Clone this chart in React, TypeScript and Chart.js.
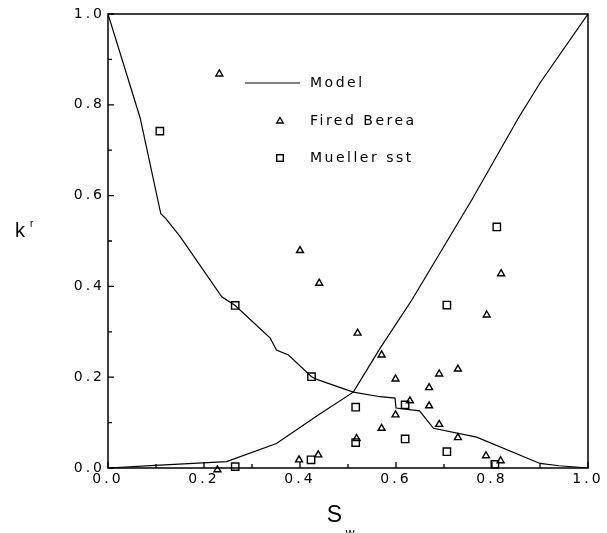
import React, { useEffect, useRef } from 'react';
import { Chart, registerables } from 'chart.js';

Chart.register(...registerables);

// ---- Data ----
const modelKroSw = [0, 0.067, 0.11, 0.12, 0.15, 0.237, 0.265, 0.338, 0.351, 0.376, 0.424, 0.438, 0.511, 0.567, 0.598, 0.6, 0.649, 0.678, 0.768, 0.9, 0.94, 1.0];
const modelKro = [1.0, 0.771, 0.56, 0.55, 0.51, 0.377, 0.358, 0.286, 0.26, 0.249, 0.201, 0.194, 0.167, 0.157, 0.154, 0.132, 0.126, 0.0875, 0.068, 0.01, 0.005, 0.0];

const modelKrwSw = [0, 0.098, 0.247, 0.351, 0.438, 0.511, 0.567, 0.633, 0.758, 0.855, 0.9, 1.0];
const modelKrw = [0, 0.006, 0.014, 0.054, 0.117, 0.167, 0.264, 0.37, 0.591, 0.771, 0.848, 1.0];

const bereaSw = [0.232, 0.40, 0.44, 0.52, 0.57, 0.789, 0.819, 0.599, 0.69, 0.729, 0.669, 0.629, 0.669, 0.599, 0.57, 0.69, 0.729, 0.7875, 0.818, 0.518, 0.398, 0.438, 0.228];
const bereaKr = [0.868, 0.479, 0.407, 0.297, 0.249, 0.337, 0.428, 0.196, 0.207, 0.218, 0.177, 0.148, 0.137, 0.117, 0.0875, 0.096, 0.067, 0.027, 0.016, 0.065, 0.018, 0.029, -0.004];

const muellerSw = [0.108, 0.265, 0.424, 0.516, 0.516, 0.423, 0.265, 0.706, 0.619, 0.619, 0.706, 0.806, 0.81];
const muellerKr = [0.742, 0.358, 0.201, 0.134, 0.056, 0.018, 0.003, 0.359, 0.139, 0.064, 0.036, 0.008, 0.531];

const seriesLabels = ['Model', 'Fired Berea', 'Mueller sst'];
const axisMin = 0;
const axisMax = 1;
const minorStep = 0.1;
const xTitle = 'S';
const xTitleSub = 'w';
const yTitle = 'k';
const yTitleSup = 'r';

const zip = (xs: number[], ys: number[]) => xs.map((x, i) => ({ x, y: ys[i] }));

export default function App() {
  const ref = useRef<HTMLCanvasElement>(null);

  useEffect(() => {
    const canvas = ref.current;
    if (!canvas) return;

    const tickFont = { family: 'DejaVu Sans', size: 14 };
    const tickSpacing = '3px';

    const decor = {
      id: 'decor',
      beforeUpdate(chart: any) {
        chart.ctx.letterSpacing = tickSpacing;
      },
      beforeDraw(chart: any) {
        chart.ctx.letterSpacing = tickSpacing;
      },
      beforeDatasetsDraw(chart: any) {
        const { ctx, chartArea: a, scales } = chart;
        ctx.save();
        ctx.letterSpacing = '0px';
        ctx.strokeStyle = '#000';
        ctx.lineWidth = 1.5;
        ctx.strokeRect(a.left, a.top, a.right - a.left, a.bottom - a.top);
        ctx.lineWidth = 1.3;
        ctx.beginPath();
        const n = Math.round((axisMax - axisMin) / minorStep);
        for (let i = 0; i <= n; i++) {
          const v = axisMin + i * minorStep;
          const len = i % 2 === 0 ? 6 : 4;
          const px = scales.x.getPixelForValue(v);
          ctx.moveTo(px, a.bottom);
          ctx.lineTo(px, a.bottom - len);
          const py = scales.y.getPixelForValue(v);
          ctx.moveTo(a.left, py);
          ctx.lineTo(a.left + len, py);
        }
        ctx.stroke();
        ctx.restore();
      },
      afterDraw(chart: any) {
        const { ctx } = chart;
        const ds = chart.data.datasets;
        ctx.save();
        ctx.fillStyle = '#000';
        ctx.strokeStyle = '#000';
        // legend
        ctx.letterSpacing = '2.5px';
        ctx.font = '14px "DejaVu Sans"';
        ctx.textAlign = 'left';
        ctx.textBaseline = 'middle';
        ctx.lineWidth = 1.2;
        ctx.beginPath();
        ctx.moveTo(245, 83);
        ctx.lineTo(300, 83);
        ctx.stroke();
        ctx.fillText(ds[0].label, 310, 83);
        ctx.lineWidth = 1.4;
        ctx.beginPath();
        ctx.moveTo(280, 117.5);
        ctx.lineTo(283.2, 123);
        ctx.lineTo(276.8, 123);
        ctx.closePath();
        ctx.stroke();
        ctx.fillText(ds[2].label, 310, 121);
        ctx.strokeRect(276.7, 154.7, 6.6, 6.6);
        ctx.fillText(ds[3].label, 310, 158);
        // axis titles
        ctx.letterSpacing = '0px';
        ctx.textBaseline = 'alphabetic';
        ctx.textAlign = 'center';
        ctx.font = '23px "Liberation Sans"';
        ctx.fillText(xTitle, 334.5, 522);
        ctx.font = '12px "Liberation Sans"';
        ctx.fillText(xTitleSub, 350, 537);
        ctx.textAlign = 'left';
        ctx.font = '20px "Liberation Sans"';
        ctx.fillText(yTitle, 15, 237);
        ctx.font = '10px "Liberation Sans"';
        ctx.fillText(yTitleSup, 30, 227);
        ctx.restore();
      },
    };

    const tickCb = (value: any) => {
      const k = Math.round(Number(value) / minorStep);
      return k % 2 === 0 ? Number(value).toFixed(1) : '';
    };

    const chart = new Chart(canvas, {
      type: 'scatter',
      data: {
        datasets: [
          {
            label: seriesLabels[0],
            data: zip(modelKroSw, modelKro),
            showLine: true,
            borderColor: '#000',
            borderWidth: 1.2,
            pointRadius: 0,
            tension: 0,
          },
          {
            label: seriesLabels[0],
            data: zip(modelKrwSw, modelKrw),
            showLine: true,
            borderColor: '#000',
            borderWidth: 1.2,
            pointRadius: 0,
            tension: 0,
          },
          {
            label: seriesLabels[1],
            data: zip(bereaSw, bereaKr),
            pointStyle: 'triangle',
            pointRadius: 4,
            borderWidth: 1.4,
            borderColor: '#000',
            backgroundColor: 'rgba(0,0,0,0)',
            clip: false,
          },
          {
            label: seriesLabels[2],
            data: zip(muellerSw, muellerKr),
            pointStyle: 'rect',
            pointRadius: 5.2,
            borderWidth: 1.4,
            borderColor: '#000',
            backgroundColor: 'rgba(0,0,0,0)',
            clip: false,
          },
        ] as any,
      },
      options: {
        animation: false,
        responsive: true,
        maintainAspectRatio: false,
        events: [],
        layout: { padding: { left: 0, top: 14, right: 19, bottom: 0 } },
        plugins: {
          legend: { display: false },
          tooltip: { enabled: false },
        },
        scales: {
          x: {
            type: 'linear',
            position: 'bottom',
            min: axisMin,
            max: axisMax,
            grid: { display: false, drawTicks: false },
            border: { display: false },
            ticks: {
              stepSize: minorStep,
              autoSkip: false,
              maxRotation: 0,
              padding: 3,
              color: '#000',
              font: tickFont,
              callback: tickCb,
            },
            afterFit: (s: any) => {
              s.height = 65;
              s.paddingLeft = 0;
              s.paddingRight = 0;
            },
          },
          y: {
            type: 'linear',
            min: axisMin,
            max: axisMax,
            grid: { display: false, drawTicks: false },
            border: { display: false },
            ticks: {
              stepSize: minorStep,
              autoSkip: false,
              padding: 3,
              color: '#000',
              font: tickFont,
              callback: tickCb,
            },
            afterFit: (s: any) => {
              s.width = 108;
              s.paddingTop = 0;
              s.paddingBottom = 0;
            },
          },
        },
      } as any,
      plugins: [decor],
    });

    return () => chart.destroy();
  }, []);

  return (
    <div style={{ position: 'fixed', left: 0, top: 0, width: 607, height: 533, background: '#fff' }}>
      <canvas ref={ref} style={{ display: 'block' }} />
    </div>
  );
}
